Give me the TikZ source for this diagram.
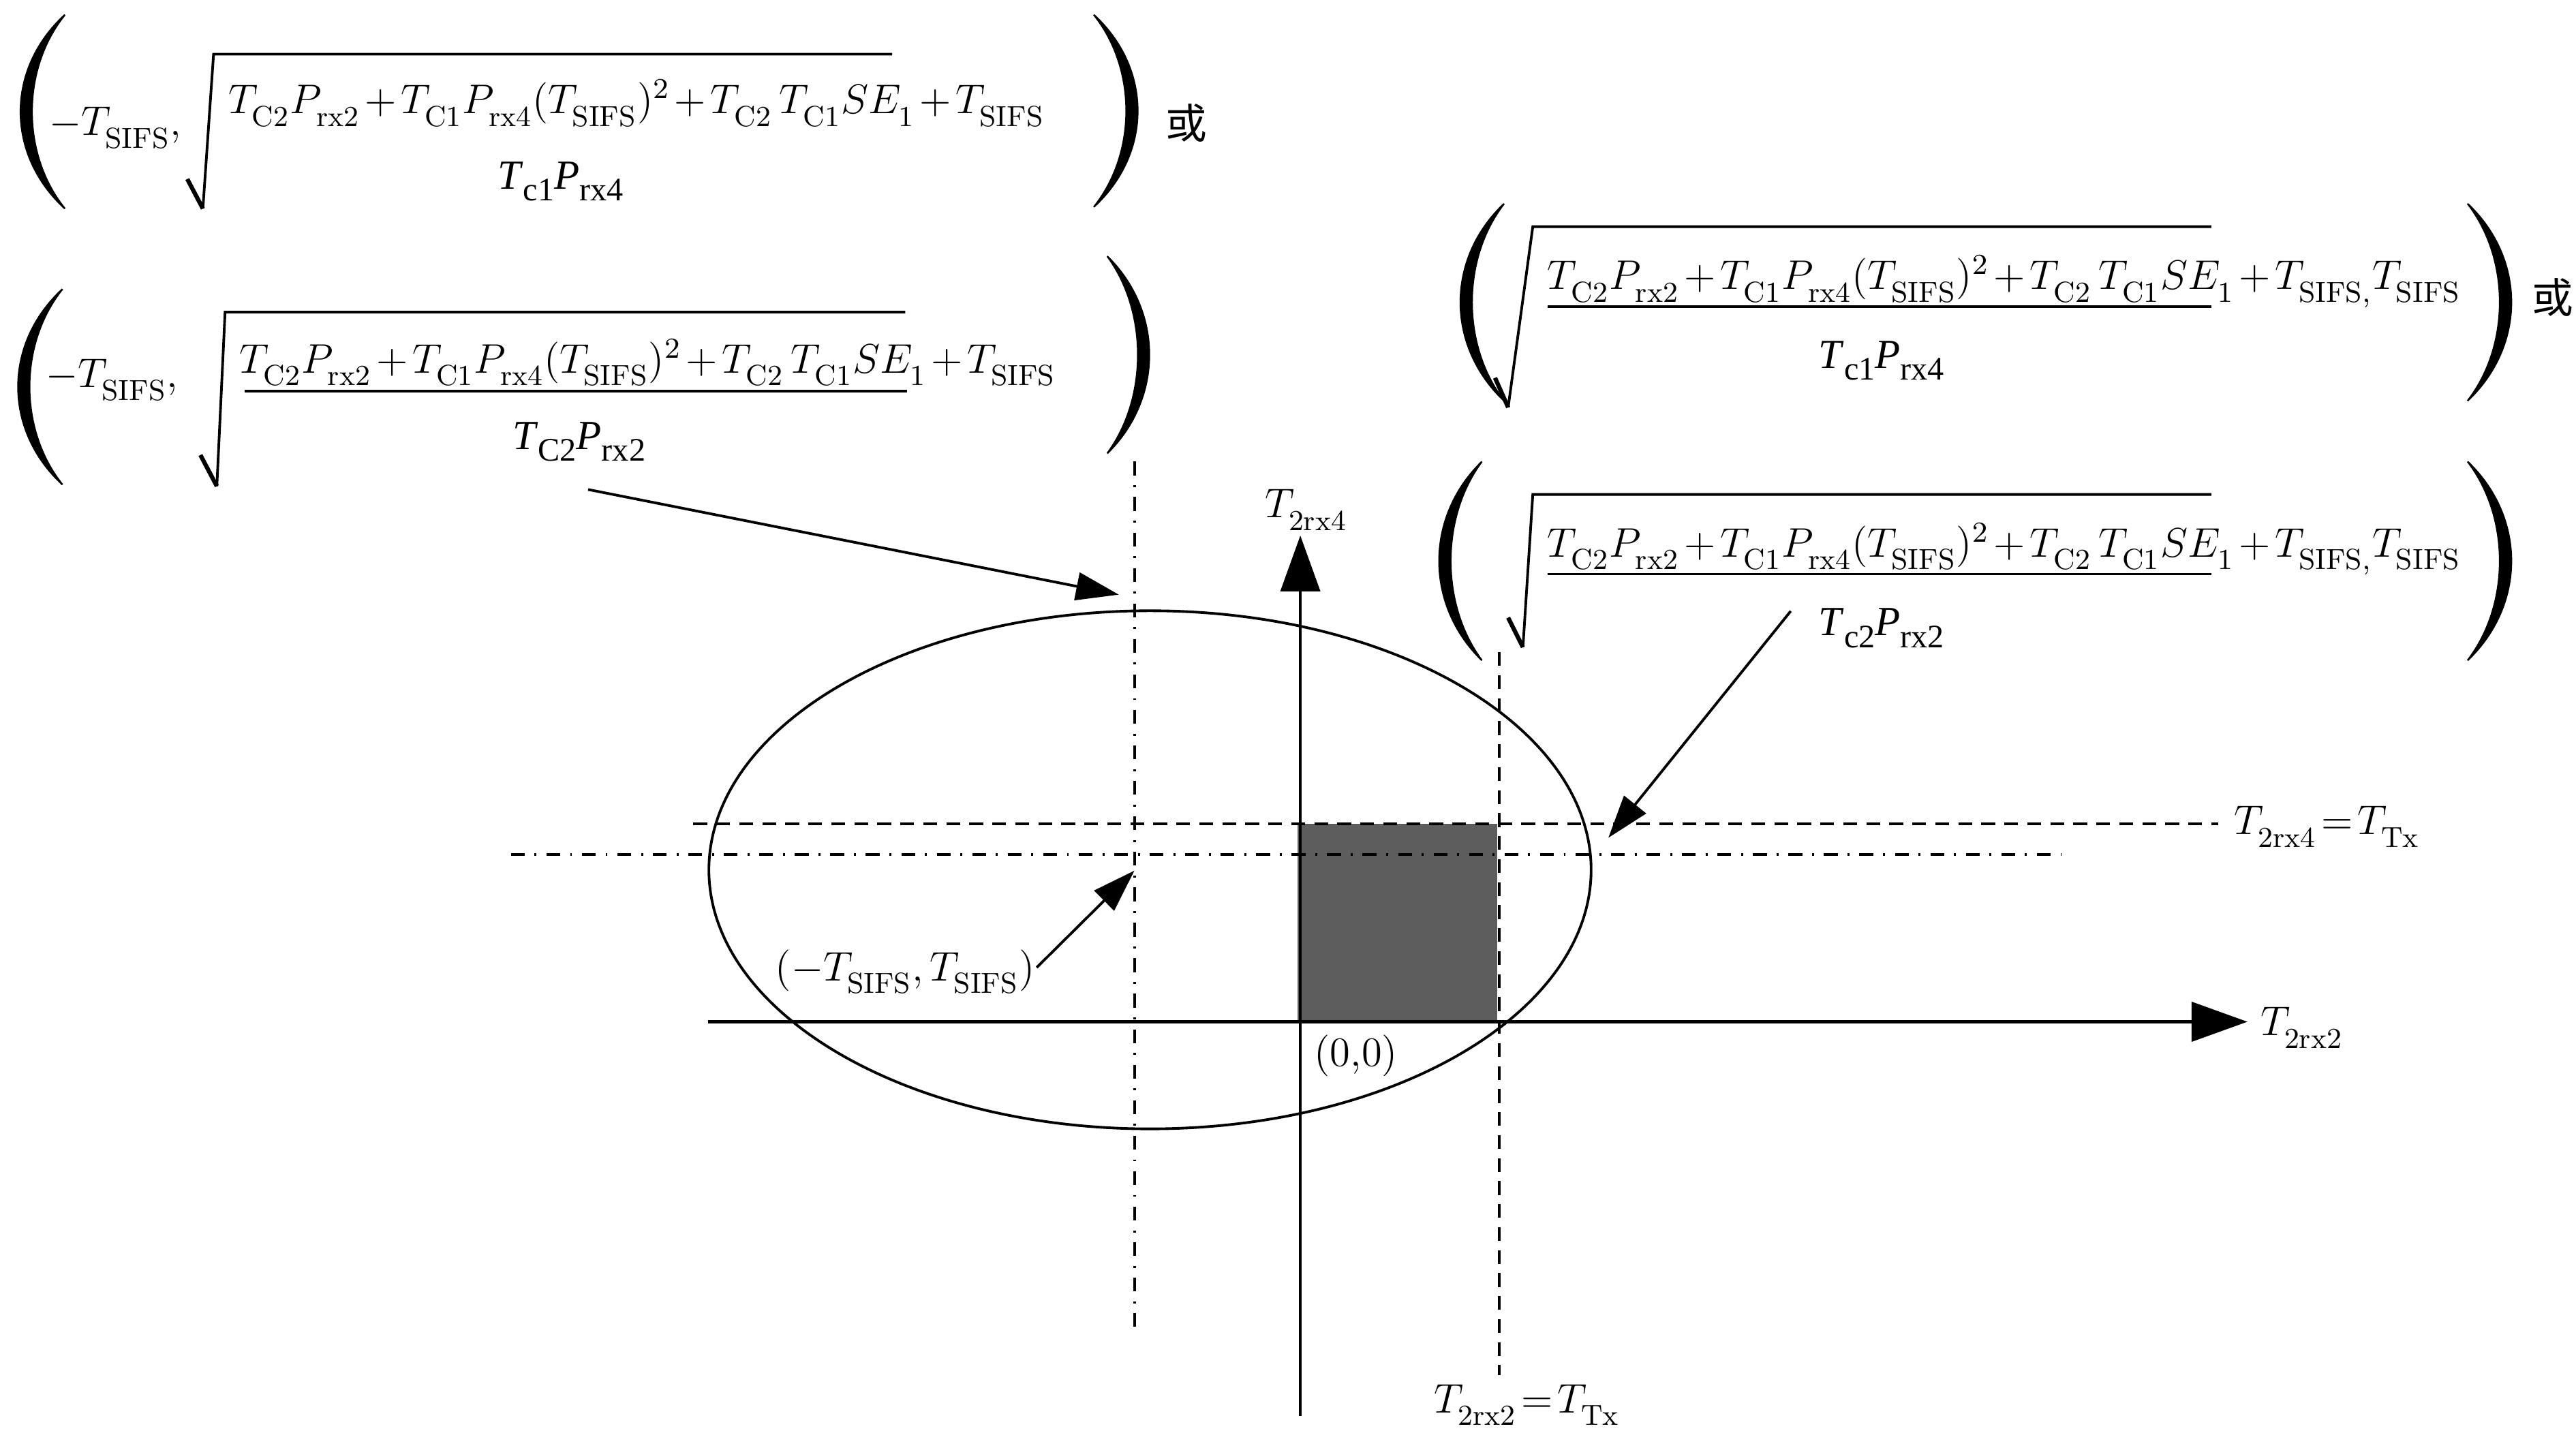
\RequirePackage{fix-cm}
\documentclass[tikz,border=0pt]{standalone}
\usepackage{amsmath}
\usepackage{fontspec}
\newfontfamily\tnr{Liberation Serif}
\newfontfamily\cjk{Noto Sans CJK SC}
\usetikzlibrary{arrows.meta}
\newcommand\fsz{\fontsize{12.6}{15}\selectfont}
\newcommand\sub[1]{_{\lower2pt\hbox{$\scriptstyle\mathrm{#1}$}}}
\newcommand\tsub[2]{\textit{#1}\raisebox{-3.6pt}{\fontsize{10}{10}\selectfont #2}}
\newcommand\bigparen[5]{%
 \fill[draw, line width=0.5pt] (#1,#4) .. controls (#2,{#4+0.28*(#5-#4)}) and (#2,{#5-0.28*(#5-#4)}) .. (#1,#5)
   .. controls (#3,{#5-0.28*(#5-#4)}) and (#3,{#4+0.28*(#5-#4)}) .. (#1,#4) -- cycle;}
\newcommand\numer[1]{\medmuskip=2mu T\sub{C2}P\sub{rx2}+T\sub{C1}P\sub{rx4}(T\sub{SIFS})^2+T\sub{C2}\,T\sub{C1}SE\sub{1}+T\sub{#1}}
\newcommand\eqT[1]{\thickmuskip=2mu T\sub{#1}=T\sub{Tx}}
\definecolor{boxgray}{RGB}{93,93,93}
\tikzset{
  lab/.style={inner sep=0pt, outer sep=0pt, font=\fsz},
  tlab/.style={inner sep=0pt, outer sep=0pt, font=\tnr\fsz},
  ln/.style={line width=0.8pt},
  dashln/.style={line width=0.8pt, dash pattern=on 4.2pt off 2.8pt},
  dotdash/.style={line width=0.8pt, dash pattern=on 4.2pt off 3pt on 0.6pt off 3pt},
  axis/.style={line width=0.9pt, -{Triangle[length=17pt,width=12pt]}},
  ptr/.style={line width=0.8pt, -{Triangle[length=13pt,width=8.5pt]}},
  rad/.style={line width=0.8pt, line join=miter},
}
\begin{document}
\begin{tikzpicture}[x=0.5pt,y=-0.5pt]
\useasboundingbox (0,0) rectangle (1568,872);

% ---------- formula 1 (top left)
\bigparen{39.5}{3.5}{12.8}{9}{127}
\bigparen{665.8}{701.4}{692.1}{9}{126}
\node[lab, anchor=base west] (f1a) at (30,82.5) {$-T\sub{SIFS},$};
\draw[line width=1.3pt] (114,109) -- (123.5,127);
\draw[rad] (123.5,127) -- (130,33) -- (543,33);
\node[lab, anchor=base west] (f1n) at (139,69) {$\numer{SIFS}$};
\node[tlab, anchor=base west] (f1d) at (303,115) {\tsub{T}{c1}\tsub{P}{rx4}};
\node[lab, font=\cjk\fsz] (or1) at (722,75) {或};

% ---------- formula 2 (left)
\bigparen{38}{2}{11.3}{176}{295}
\bigparen{674}{708.1}{698.8}{156}{276}
\node[lab, anchor=base west] (f2a) at (28,236) {$-T\sub{SIFS},$};
\draw[line width=1.3pt] (122,277) -- (132,296);
\draw[rad] (132,296) -- (137,190) -- (551,190);
\node[lab, anchor=base west] (f2n) at (146,227) {$\numer{SIFS}$};
\draw[ln] (149,238) -- (552,238);
\node[tlab, anchor=base west] (f2d) at (312,273.5) {\tsub{T}{C2}\tsub{P}{rx2}};

% ---------- formula 3 (top right)
\bigparen{915.5}{880.1}{889.5}{124}{244}
\bigparen{1502}{1537.5}{1528.1}{124}{244}
\draw[line width=1.3pt] (910,230) -- (918,248);
\draw[rad] (918,248) -- (933,138) -- (1346,138);
\node[lab, anchor=base west] (f3n) at (942,176) {$\numer{SIFS,}T\sub{SIFS}$};
\draw[ln] (942,186.5) -- (1346,186.5);
\node[tlab, anchor=base west] (f3d) at (1107,224) {\tsub{T}{c1}\tsub{P}{rx4}};
\node[lab, font=\cjk\fsz] (or2) at (1554,181) {或};

% ---------- formula 4 (right)
\bigparen{902}{867.3}{876.7}{281}{402}
\bigparen{1502}{1537.5}{1528.1}{281}{402}
\draw[line width=1.3pt] (918,376) -- (927,394);
\draw[rad] (927,394) -- (933,301) -- (1346,301);
\node[lab, anchor=base west] (f4n) at (942,339) {$\numer{SIFS,}T\sub{SIFS}$};
\draw[ln] (942,349.5) -- (1346,349.5);
\node[tlab, anchor=base west] (f4d) at (1107,387) {\tsub{T}{c2}\tsub{P}{rx2}};

% ---------- plot
\draw[ln] (700,529.5) ellipse [x radius=134.25pt, y radius=78.85pt];
\fill[boxgray] (790,501.5) rectangle (911.5,622);

\coordinate (ddvT) at (690.5,281);
\coordinate (ddvB) at (690.5,812);
\coordinate (ddhL) at (311,520);
\coordinate (ddhR) at (1255,520);
\coordinate (dhL) at (422,501.5);
\coordinate (dhR) at (1350,501.5);
\coordinate (dvT) at (912.6,397);
\coordinate (dvB) at (912.6,837);
\draw[dotdash] (ddvT) -- (ddvB);
\draw[dotdash] (ddhL) -- (ddhR);
\draw[dashln] (dhL) -- (dhR);
\draw[dashln] (dvT) -- (dvB);

\coordinate (yB) at (791.5,862);
\coordinate (yT) at (791.5,326);
\coordinate (xL) at (431,622);
\coordinate (xR) at (1368,622);
\draw[axis] (yB) -- (yT);
\draw[axis] (xL) -- (xR);

\node[lab, anchor=base west] (ylab) at (770,315) {$T\sub{2rx4}$};
\node[lab, anchor=base west] (xlab) at (1376,630.5) {$T\sub{2rx2}$};
\node[lab, anchor=base west] (hlab) at (1360,508) {$\eqT{2rx4}$};
\node[lab, anchor=base west] (vlab) at (873,860) {$\eqT{2rx2}$};
\node[lab, anchor=base west] (orig) at (800,649) {(0,0)};
\node[lab, anchor=base west] (pt) at (472,597) {$(-T\sub{SIFS},T\sub{SIFS})$};

% ---------- pointers
\coordinate (a1s) at (358,298);
\coordinate (a1e) at (681,362);
\coordinate (a2s) at (631,589);
\coordinate (a2e) at (690.5,530);
\coordinate (a3s) at (1090,372);
\coordinate (a3e) at (979,510);
\draw[ptr] (a1s) -- (a1e);
\draw[ptr] (a2s) -- (a2e);
\draw[ptr] (a3s) -- (a3e);
\end{tikzpicture}
\end{document}
